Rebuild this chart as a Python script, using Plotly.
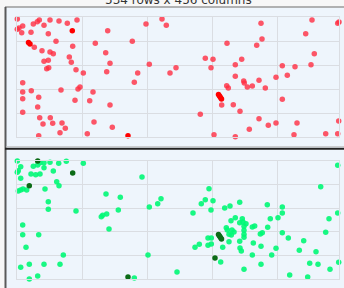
import plotly.graph_objects as go

# ---- data ----
top_x = [0.3,22.3,20.3,33,42,60,5.7,16.3,27,50.3,0.3,2,4.7,14,31.3,90.7,17.3,39,55.7,78.3,115.3,25,33,36.3,88.7,52.3,27,31.3,54.3,93,132.3,29.7,31.7,59,66.3,89.7,120.7,153,5.7,117.3,5.7,14.3,44,61,63,76,5.7,21.7,58,72.7,20.7,93,5.7,22.7,33.3,26,35.7,45,48.3,77,95.3,21.7,43,70.3,129,145,149.3,
         244,295,320.7,322,288.7,210,245,239.7,297.3,188.3,196,224.7,218.3,159,194,265.3,278,294,218.3,270.3,259,226.7,227.3,242,209.7,211.3,230.3,235.3,248.3,265.3,204.7,216.3,223,183.3,242,251.3,259,280,321.7,232.3,197,218.3,277,308.7,320.7]
top_y = [118,117,115.3,117,116,117,111,113,111.7,113.7,107.7,109,104.3,104.7,103.3,106.3,89.7,95.7,90.7,93.7,95.7,86.3,85,83.3,84.3,80,75.7,76.7,74.7,73.7,72.7,68.3,69.3,67.3,64,65.3,64,64,54.3,54.7,45,46.3,47,48,50,45,38.3,39.7,36.7,36.3,30,32,24.7,19.3,19.3,13,13.7,14,8.7,15,9.7,1.3,4.3,3.3,113,118,111.7,
         113.7,117,113.7,115,103.3,93.7,98,91.7,83.3,78.7,77.7,77.7,72.3,69.3,69.3,71.3,70.3,72.3,60.7,61.7,59.7,56,54,56.7,51.3,49,50,51,49,37.7,32,32.3,25.7,22.7,18.3,11.7,14,14,16,7.7,2.3,0.3,2.3,3.3,3.3]
top_hi_x = [55.3,11.5,13,111,201.5,202.5,203.5,204.5]
top_hi_y = [106.3,94.5,93,1.3,42.5,41,39.5,38]

bot_x = [0.3,23,27,33,41.7,49.3,66.3,3.7,16.3,20.7,27,1.3,0.3,36.3,14,18.7,23,3.7,39.7,42,1.3,3.7,6,9.7,28,125,89,103.3,144,140.7,132.3,31.3,31.3,59,101.3,89.7,85.7,84.3,5.7,92,5.7,21.7,9,46.3,131,3.7,12.3,27,43,12.3,20.7,117.3,
         320.7,303.7,192,188.3,184.3,196,222.7,250.3,265.3,207.7,213,194,176,265.3,320.7,218.3,225.3,253.3,261,312,214,222.7,226,229,209.3,210.3,215,217,214.3,212,235.3,237.7,227,227,227,227,250.7,243.3,245.3,265.3,308.7,191,194.3,222.7,271.3,286.7,182.3,178,191,194.3,205.7,212,236.3,244,223,224.3,259,282.3,299,235.3,254.7,203.7,292.7,301,321.7,244,227,313,160,272.7,290.7]
bot_y = [118,116.3,116.3,116.7,115.7,117.7,115.7,112.3,112.7,114,111.3,108.3,106.7,108,105,104.3,105,100.7,97.3,93.3,88,89,90,89,90,102,85,81.7,80.3,75.3,72,77.3,69.7,68,69,65,63.7,62.3,54,50,44.3,44.3,31.7,24,24,11.7,14.7,14.7,14.7,0,3,1,
         113.7,92.3,90.3,79.3,75.3,78.3,76.7,74.3,72,71,73,69,66,66,66,61.3,60.3,60.3,61.3,60.3,58.3,56.3,57,55.3,51.3,49,49,47,44,44.7,52,53,52.7,48.7,44.7,41.7,51.7,45,46.3,46.3,46.7,41,41,37.7,41,38.3,34.7,31.7,33.7,35,31.7,37.3,36,32.7,31,28,30.7,28.7,27.3,24,24,17,15.7,14.7,16.7,14.7,9.7,9.7,7,4,2]
bot_hi_x = [20.7,55.7,12.3,111,201.5,202.5,203.5,204.5,198]
bot_hi_y = [118,106,93.3,2,44.5,43,41.5,40,21]

x_grid = [0, 65, 130, 195, 260, 322]
top_y_grid = [0, 24, 48, 72, 96, 120]
bot_y_grid = [0, 23.6, 47.2, 70.8, 94.4, 118]
title_text = "534 rows x 456 columns"

W, H = 344, 288
def fx(p):
    return p / W
def fy(p):
    return 1 - p / H

BG = "#eef5fc"
GRID = "#dadde2"

fig = go.Figure()
fig.add_trace(go.Scatter(x=top_x, y=top_y, mode="markers", xaxis="x", yaxis="y",
                         marker=dict(size=5.5, color="rgba(255,45,65,0.8)", line=dict(width=0)),
                         cliponaxis=False, showlegend=False, hoverinfo="skip"))
fig.add_trace(go.Scatter(x=top_hi_x, y=top_hi_y, mode="markers", xaxis="x", yaxis="y",
                         marker=dict(size=5.5, color="#ff0000", line=dict(width=0)),
                         cliponaxis=False, showlegend=False, hoverinfo="skip"))
fig.add_trace(go.Scatter(x=bot_x, y=bot_y, mode="markers", xaxis="x2", yaxis="y2",
                         marker=dict(size=5.5, color="rgba(0,248,118,0.9)", line=dict(width=0)),
                         cliponaxis=False, showlegend=False, hoverinfo="skip"))
fig.add_trace(go.Scatter(x=bot_hi_x, y=bot_hi_y, mode="markers", xaxis="x2", yaxis="y2",
                         marker=dict(size=5.5, color="#0b6b16", line=dict(width=0)),
                         cliponaxis=False, showlegend=False, hoverinfo="skip"))

axis_common = dict(showticklabels=False, ticks="", showgrid=True, gridcolor=GRID, gridwidth=1,
                   zeroline=False, showline=True, linecolor=GRID, linewidth=1, mirror=True,
                   fixedrange=True)

fig.update_layout(
    width=W, height=H, margin=dict(l=0, r=0, t=0, b=0),
    paper_bgcolor="#f7f7f7", plot_bgcolor=BG,
    xaxis=dict(domain=[fx(17), fx(339)], range=[0, 322], tickvals=x_grid, anchor="y", **axis_common),
    yaxis=dict(domain=[fy(137), fy(17)], range=[0, 120], tickvals=top_y_grid, anchor="x", **axis_common),
    xaxis2=dict(domain=[fx(17), fx(339)], range=[0, 322], tickvals=x_grid, anchor="y2", **axis_common),
    yaxis2=dict(domain=[fy(279), fy(161)], range=[0, 118], tickvals=bot_y_grid, anchor="x2", **axis_common),
    shapes=[
        dict(type="rect", xref="paper", yref="paper", x0=fx(6), x1=1.01, y0=fy(148), y1=fy(7.5),
             fillcolor=BG, line=dict(width=0), layer="below"),
        dict(type="rect", xref="paper", yref="paper", x0=fx(6), x1=1.01, y0=-0.01, y1=fy(149.5),
             fillcolor=BG, line=dict(width=0), layer="below"),
        dict(type="line", xref="paper", yref="paper", x0=fx(5), x1=1.01, y0=fy(7), y1=fy(7),
             line=dict(color="#9a9a9a", width=1.5), layer="below"),
        dict(type="line", xref="paper", yref="paper", x0=fx(5.5), x1=fx(5.5), y0=-0.01, y1=fy(7),
             line=dict(color="#5a5a5a", width=2), layer="below"),
        dict(type="line", xref="paper", yref="paper", x0=fx(5), x1=1.01, y0=fy(148.7), y1=fy(148.7),
             line=dict(color="#222222", width=2), layer="below"),
        dict(type="line", xref="paper", yref="paper", x0=fx(6), x1=1.01, y0=fy(146.8), y1=fy(146.8),
             line=dict(color="#bdbdbd", width=1), layer="below"),
    ],
    annotations=[
        dict(text=title_text, xref="paper", yref="paper", x=fx(178), y=fy(0),
             xanchor="center", yanchor="middle", showarrow=False,
             font=dict(family="DejaVu Sans", size=12, color="#333333")),
    ],
)

fig.write_html("out.html",
               config={"displayModeBar": False, "staticPlot": True},
               post_script="document.body.style.margin='0';document.body.style.padding='0';document.body.style.overflow='hidden';")
